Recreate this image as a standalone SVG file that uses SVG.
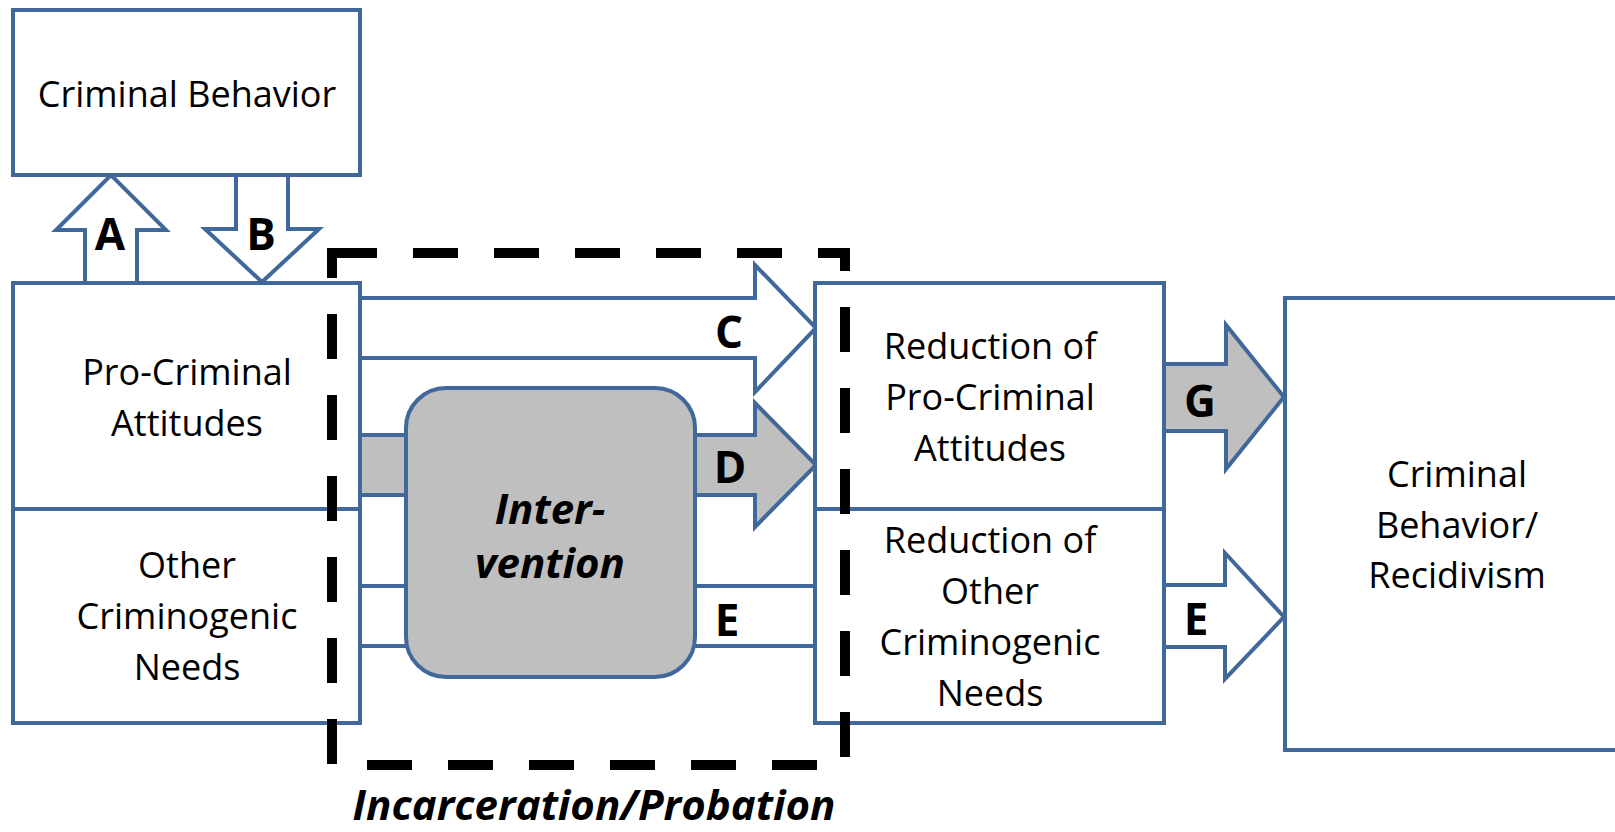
<svg xmlns="http://www.w3.org/2000/svg" width="1615" height="832" viewBox="0 0 1615 832">
<style>
.box{fill:#ffffff;stroke:#41689b;stroke-width:4}
.arw{fill:#ffffff;stroke:#41689b;stroke-width:4;stroke-linejoin:miter}
.arg{fill:#bfbfbf;stroke:#41689b;stroke-width:4;stroke-linejoin:miter}
.ln{stroke:#41689b;stroke-width:4;fill:none}
.t{font-family:"Open Sans","Liberation Sans",sans-serif;font-size:36px;fill:#000;text-anchor:middle}
.lb{font-family:"Open Sans","Liberation Sans",sans-serif;font-size:44px;font-weight:bold;fill:#000;text-anchor:middle}
.bi{font-family:"Open Sans","Liberation Sans",sans-serif;font-size:42px;font-weight:bold;font-style:italic;fill:#000;text-anchor:middle}
</style>
<rect width="1615" height="832" fill="#ffffff"/>

<g id="connectors">
  <polygon class="arw" points="85,283 85,230 56,230 111,175 166,230 137,230 137,283"/>
  <polygon class="arw" points="236,175 236,229 205,229 262,282 319,229 288,229 288,175"/>
  <polygon class="arw" points="360,298 755,298 755,265 816,328 755,392 755,358 360,358"/>
  <polygon class="arg" points="360,435 755,435 755,403 816,465 755,527 755,495 360,495"/>
  <line class="ln" x1="360" y1="586" x2="815" y2="586"/>
  <line class="ln" x1="360" y1="646" x2="815" y2="646"/>
  <polygon class="arg" points="1164,364 1226,364 1226,325 1284,397 1226,469 1226,431 1164,431"/>
  <polygon class="arw" points="1164,585 1225,585 1225,553 1284,617 1225,679 1225,647 1164,647"/>
</g>

<g id="node-criminal-behavior">
  <rect class="box" x="13" y="10" width="347" height="165"/>
  <text class="t" x="187" y="107">Criminal Behavior</text>
</g>

<g id="node-pro-criminal-attitudes">
  <rect class="box" x="13" y="283" width="347" height="226"/>
  <text class="t" x="187" y="385">Pro-Criminal</text>
  <text class="t" x="187" y="436">Attitudes</text>
</g>

<g id="node-other-needs">
  <rect class="box" x="13" y="509" width="347" height="214"/>
  <text class="t" x="187" y="578">Other</text>
  <text class="t" x="187" y="629">Criminogenic</text>
  <text class="t" x="187" y="680">Needs</text>
</g>

<g id="node-intervention">
  <rect x="406" y="388" width="289" height="289" rx="40" ry="40" fill="#bfbfbf" stroke="#41689b" stroke-width="4"/>
  <text class="bi" x="550" y="524">Inter-</text>
  <text class="bi" x="550" y="578">vention</text>
</g>

<g id="node-reduction-attitudes">
  <rect class="box" x="815" y="283" width="349" height="226"/>
  <text class="t" x="990" y="359">Reduction of</text>
  <text class="t" x="990" y="410">Pro-Criminal</text>
  <text class="t" x="990" y="461">Attitudes</text>
</g>

<g id="node-reduction-needs">
  <rect class="box" x="815" y="509" width="349" height="214"/>
  <text class="t" x="990" y="553">Reduction of</text>
  <text class="t" x="990" y="604">Other</text>
  <text class="t" x="990" y="655">Criminogenic</text>
  <text class="t" x="990" y="706">Needs</text>
</g>

<g id="node-recidivism">
  <rect class="box" x="1285" y="298" width="380" height="452"/>
  <text class="t" x="1457" y="487">Criminal</text>
  <text class="t" x="1457" y="538">Behavior/</text>
  <text class="t" x="1457" y="588">Recidivism</text>
</g>

<g id="node-incarceration-probation">
  <path d="M332,253 H845 V765 H332 Z" fill="none" stroke="#000" stroke-width="10" stroke-dasharray="45 36"/>
  <text class="bi" x="594" y="820" font-size="40">Incarceration/Probation</text>
</g>

<g id="labels">
  <text class="lb" x="110" y="250">A</text>
  <text class="lb" x="261" y="250">B</text>
  <text class="lb" x="729" y="348">C</text>
  <text class="lb" x="730" y="483">D</text>
  <text class="lb" x="727" y="636">E</text>
  <text class="lb" x="1200" y="417">G</text>
  <text class="lb" x="1196" y="635">E</text>
</g>
</svg>
